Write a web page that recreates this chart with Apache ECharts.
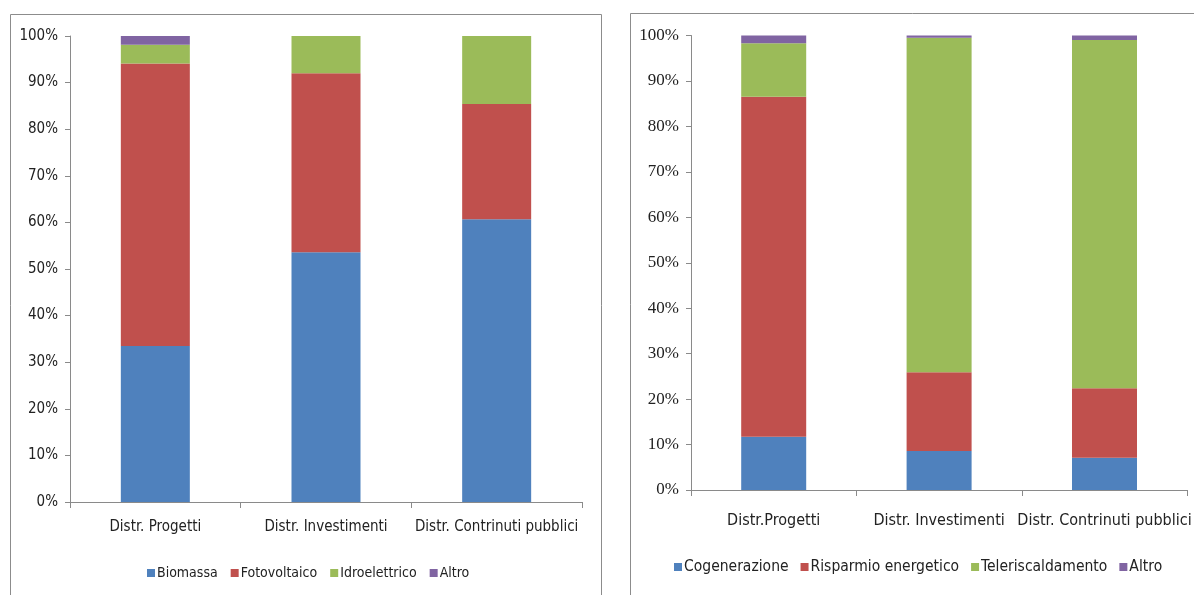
<!DOCTYPE html>
<html>
<head>
<meta charset="utf-8">
<script src="https://cdn.jsdelivr.net/npm/echarts@6/dist/echarts.min.js"></script>
<style>
  html, body { margin: 0; padding: 0; background: #fff; }
  #chart { width: 1194px; height: 595px; }
</style>
</head>
<body>
<div id="chart"></div>
<script>
// Category labels of the two panels
const categoriesLeft = ['Distr. Progetti', 'Distr. Investimenti', 'Distr. Contrinuti pubblici'];
const categoriesRight = ['Distr.Progetti', 'Distr. Investimenti', 'Distr. Contrinuti pubblici'];

// Left panel: renewable sources (% share)
const biomassa = [33.5, 53.6, 60.7];
const fotovoltaico = [60.6, 38.4, 24.7];
const idroelettrico = [4.0, 8.0, 14.6];
const altroLeft = [1.9, 0, 0];

// Right panel: efficiency measures (% share)
const cogenerazione = [11.7, 8.6, 7.1];
const risparmio = [74.8, 17.3, 15.3];
const teleriscaldamento = [11.8, 73.6, 76.6];
const altroRight = [1.7, 0.5, 1.0];

const colors = ['#4F81BD', '#C0504D', '#9BBB59', '#8064A2'];
const sansNarrow = '"Liberation Sans Narrow", "DejaVu Sans Condensed", sans-serif';
const serif = '"Liberation Serif", "DejaVu Serif", serif';
const axisGray = '#8a8a8a';

function bar(name, data, axisIndex, width, stack, colorIndex) {
  return {
    name, type: 'bar', stack, data,
    xAxisIndex: axisIndex, yAxisIndex: axisIndex,
    barWidth: width,
    itemStyle: { color: colors[colorIndex] },
    emphasis: { disabled: true }
  };
}

function yAxis(gridIndex, font, size) {
  return {
    type: 'value', gridIndex, min: 0, max: 100, interval: 10,
    axisLine: { show: true, lineStyle: { color: axisGray } },
    axisTick: { show: true, length: 5, lineStyle: { color: axisGray } },
    splitLine: { show: false },
    axisLabel: { formatter: '{value}%', margin: 12, color: '#222', fontFamily: font, fontSize: size }
  };
}

function xAxis(gridIndex, cats, size, margin) {
  return {
    type: 'category', gridIndex, data: cats,
    axisLine: { lineStyle: { color: axisGray } },
    axisTick: { show: true, length: 6, alignWithLabel: false, lineStyle: { color: axisGray } },
    axisLabel: { color: '#222', fontFamily: sansNarrow, fontSize: size, margin, interval: 0 }
  };
}

const chart = echarts.init(document.getElementById('chart'), null, { renderer: 'canvas' });

chart.setOption({
  animation: false,
  backgroundColor: '#fff',
  graphic: [
    { type: 'rect', shape: { x: 10.5, y: 14.5, width: 591, height: 620 }, style: { fill: 'none', stroke: '#8c8c8c', lineWidth: 1 }, z: -1 },
    { type: 'rect', shape: { x: 630.5, y: 13.5, width: 620, height: 620 }, style: { fill: 'none', stroke: '#8c8c8c', lineWidth: 1 }, z: -1 }
  ],
  grid: [
    { left: 70, right: 612, top: 36, bottom: 93 },
    { left: 691, right: 3, top: 35.5, bottom: 105 }
  ],
  legend: [
    {
      data: ['Biomassa', 'Fotovoltaico', 'Idroelettrico', 'Altro'],
      left: 142, top: 561, width: 440, icon: 'rect', itemWidth: 8, itemHeight: 8, itemGap: 13,
      textStyle: { color: '#222', fontFamily: sansNarrow, fontSize: 14, padding: [0, 0, 0, -3] }
    },
    {
      data: ['Cogenerazione', 'Risparmio energetico', 'Teleriscaldamento', 'Altro '],
      left: 669, top: 554, width: 540, icon: 'rect', itemWidth: 8, itemHeight: 8, itemGap: 12,
      formatter: n => n.trim(),
      textStyle: { color: '#222', fontFamily: sansNarrow, fontSize: 15.5, padding: [0, 0, 0, -3] }
    }
  ],
  xAxis: [
    xAxis(0, categoriesLeft, 15, 18),
    xAxis(1, categoriesRight, 16, 23)
  ],
  yAxis: [
    yAxis(0, sansNarrow, 15),
    yAxis(1, serif, 17)
  ],
  series: [
    bar('Biomassa', biomassa, 0, 69, 'L', 0),
    bar('Fotovoltaico', fotovoltaico, 0, 69, 'L', 1),
    bar('Idroelettrico', idroelettrico, 0, 69, 'L', 2),
    bar('Altro', altroLeft, 0, 69, 'L', 3),
    bar('Cogenerazione', cogenerazione, 1, 65, 'R', 0),
    bar('Risparmio energetico', risparmio, 1, 65, 'R', 1),
    bar('Teleriscaldamento', teleriscaldamento, 1, 65, 'R', 2),
    bar('Altro ', altroRight, 1, 65, 'R', 3)
  ]
});
</script>
</body>
</html>
